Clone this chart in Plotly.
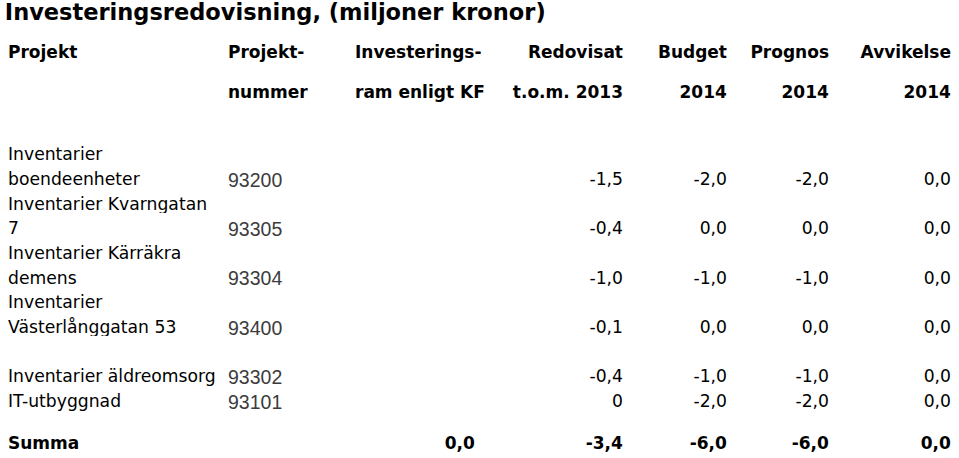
import plotly.graph_objects as go

# DATA
projekt = ["Inventarier<br>boendeenheter", "Inventarier Kvarngatan<br>7", "Inventarier Kärräkra<br>demens",
           "Inventarier<br>Västerlånggatan 53", "Inventarier äldreomsorg", "IT-utbyggnad"]
projektnummer = ["93200", "93305", "93304", "93400", "93302", "93101"]
investeringsram = [None, None, None, None, None, None]
redovisat = [-1.5, -0.4, -1.0, -0.1, -0.4, 0]
budget = [-2.0, 0.0, -1.0, 0.0, -1.0, -2.0]
prognos = [-2.0, 0.0, -1.0, 0.0, -1.0, -2.0]
avvikelse = [0.0, 0.0, 0.0, 0.0, 0.0, 0.0]
grupp = [1, 1, 1, 1, 2, 2]

rubriker = [["Projekt", ""], ["Projekt-", "nummer"], ["Investerings-", "ram enligt KF"],
            ["Redovisat", "t.o.m. 2013"], ["Budget", "2014"], ["Prognos", "2014"], ["Avvikelse", "2014"]]

NB = "\u00a0"  # hindra automatisk radbrytning i tabellen


def fmt(v):
    if v is None: return ""
    if isinstance(v, int): return str(v)
    return f"{v:.1f}".replace(".", ",")


def bold(s):
    return f"<b>{s.replace(' ', NB)}</b>" if s else ""


# bygg rader, en tabellrad per textrad
cols = [[] for _ in range(7)]
def add(row):
    for c, v in zip(cols, row): c.append(v.replace(" ", NB))

add([""] * 7)
prev = grupp[0]
for i in range(len(projekt)):
    if grupp[i] != prev: add([""] * 7)
    prev = grupp[i]
    lines = projekt[i].split("<br>")
    for l in lines[:-1]:
        add([l] + [""] * 6)
    add([lines[-1], projektnummer[i], fmt(investeringsram[i]), fmt(redovisat[i]),
         fmt(budget[i]), fmt(prognos[i]), fmt(avvikelse[i])])

summa = ["Summa", "", fmt(sum(v or 0.0 for v in investeringsram)), fmt(sum(redovisat)),
         fmt(sum(budget)), fmt(sum(prognos)), fmt(sum(avvikelse))]

aligns = ["left", "left", "left", "right", "right", "right", "right"]
cell_aligns = ["left", "left", "right", "right", "right", "right", "right"]
body_font = dict(family=["DejaVu Sans", "Liberation Sans"] + ["DejaVu Sans"] * 5,
                 size=[17.2, 19.5] + [17.2] * 5, color=["black", "#3c3c3c"] + ["black"] * 5)

fig = go.Figure()
fig.add_trace(go.Table(
    domain={'x': [0, 1], 'y': [0.08, 1 - 33.5 / 458]},
    columnwidth=[220, 127, 143, 141, 104, 102, 122],
    header=dict(values=[[bold(a), bold(b)] for a, b in rubriker],
                align=aligns, height=40.5, fill_color='white', line_color='white',
                font=dict(family="DejaVu Sans", size=17, color='black')),
    cells=dict(values=cols, align=cell_aligns,
               height=24.7, fill_color='white', line_color='white', font=body_font)))

fig.add_trace(go.Table(
    domain={'x': [0, 1], 'y': [0, 1 - 425 / 458]},
    columnwidth=[220, 127, 136, 148, 104, 102, 122],
    header=dict(values=[[bold(s)] for s in summa], align=cell_aligns,
                height=30, fill_color='white', line_color='white',
                font=dict(family="DejaVu Sans", size=17, color='black'))))

fig.update_layout(
    width=959, height=458,
    title=dict(text="<b>Investeringsredovisning, (miljoner kronor)</b>", x=0.005, xanchor='left',
               y=1 - 12 / 458, yanchor='middle', yref='container',
               font=dict(family="DejaVu Sans", size=22.5, color='black')),
    paper_bgcolor='white', plot_bgcolor='white',
    margin={'l': 0, 'r': 0, 'b': 0, 't': 0, 'pad': 0})

fig.write_html("out.html", config={'displayModeBar': False},
               post_script="document.body.style.margin='0';")
